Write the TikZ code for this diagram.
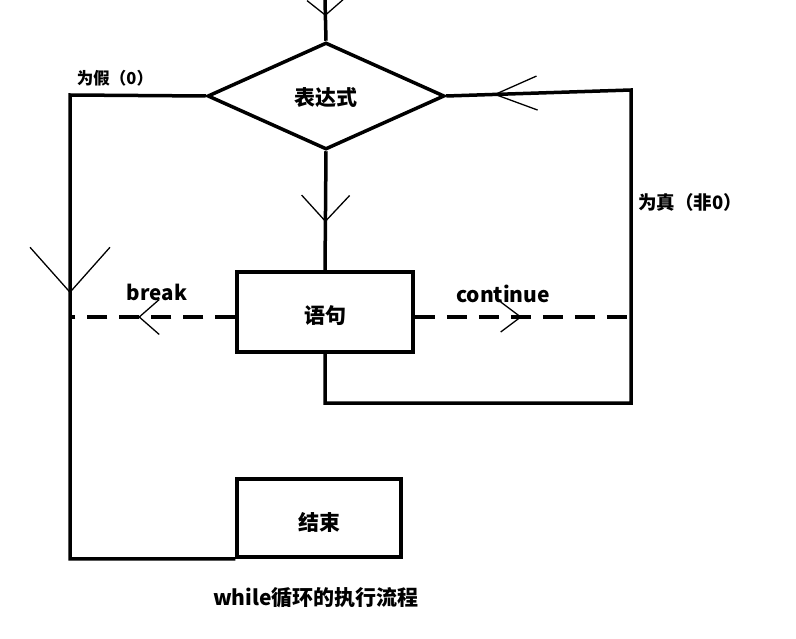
\documentclass[tikz,border=0pt]{standalone}
\usepackage{fontspec}
\setmainfont{Noto Sans CJK SC}
\usetikzlibrary{arrows.meta,shapes.geometric,decorations.markings}

\begin{document}
\begin{tikzpicture}[x=1pt,y=-1pt,
    xian/.style={line width=3.5pt,draw=black},
    xuxian/.style={xian,dash pattern=on 20pt off 12pt},
    kuang/.style={draw=black,line width=3.5pt,fill=white,minimum width=#1,inner sep=0pt,text height=26pt,text depth=2pt,font=\fontsize{21}{24}\selectfont\bfseries},
    panduan/.style={diamond,draw=black,line width=3.5pt,minimum width=237pt,minimum height=107pt,inner sep=0pt,font=\fontsize{21}{24}\selectfont\bfseries},
    biaoqian/.style={inner sep=0pt,font=\fontsize{#1}{#1}\selectfont\bfseries},
    jian/.style n args={3}{postaction={decorate},decoration={markings,mark=at position #1 with {\arrow{Straight Barb[length=#2,width=#3,line width=1.3pt]}}}}]
    \useasboundingbox (0,0) rectangle (796,639);
    \node[panduan,text height=22pt,text depth=2pt] (expr) at (326,96) {表达式};
    \node[kuang=176pt,minimum height=80pt] (yuju) at (325,312) {语句};
    \node[kuang=164pt,minimum height=78pt] (jieshu) at (319,518) {结束};
    \coordinate (inicio) at (325,0);
    \coordinate (zuoshang) at (70,95);
    \coordinate (zuozhong) at (70,317);
    \coordinate (youzhong) at (631,317);
    \coordinate (youxia) at (631,403);
    \coordinate (youshang) at (631,90);
    \draw[xian,jian={16pt}{15pt}{36pt}] (inicio) -- (expr.north);
    \draw[xian,jian={71pt}{26pt}{48pt}] (expr.south) -- (yuju.north);
    \draw[xian,jian={334pt}{45pt}{80pt}] (expr.west) -- (zuoshang) -- (zuoshang |- jieshu.south west) -- (jieshu.south west);
    \draw[xuxian,jian={97pt}{20pt}{35pt}] (yuju.west |- zuozhong) -- (zuozhong);
    \draw[xuxian,jian={107pt}{20pt}{30pt}] (yuju.east |- youzhong) -- (youzhong);
    \draw[xian,jian={806pt}{42pt}{34pt}] (yuju.south) |- (youxia) -- (youshang) -- (expr.east);
    \node[biaoqian=16.5] (jia) at (115,78) {为假（0）};
    \node[biaoqian=18.5] (zhen) at (690,202) {为真（非0）};
    \node[biaoqian=20.5] (rompe) at (157,292) {break};
    \node[biaoqian=21] (sigue) at (503,294) {continue};
    \node[biaoqian=21] (titulo) at (316,598) {while循环的执行流程};
\end{tikzpicture}
\end{document}
